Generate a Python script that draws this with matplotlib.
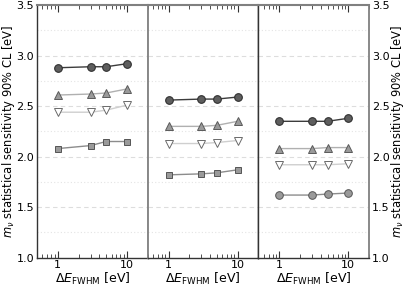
import numpy as np
from matplotlib import pyplot as plt
from matplotlib.ticker import LogLocator, NullFormatter, FixedLocator

# energy resolution values [eV]
fwhm = [1, 3, 5, 10]

# one list of series per panel (circle, triangle up, triangle down, bottom series)
panel1_circle = [2.88, 2.89, 2.89, 2.92]
panel1_up = [2.61, 2.62, 2.63, 2.67]
panel1_down = [2.44, 2.44, 2.46, 2.51]
panel1_square = [2.08, 2.11, 2.15, 2.15]

panel2_circle = [2.56, 2.57, 2.57, 2.59]
panel2_up = [2.30, 2.30, 2.31, 2.35]
panel2_down = [2.13, 2.13, 2.14, 2.16]
panel2_square = [1.82, 1.83, 1.84, 1.87]

panel3_circle = [2.35, 2.35, 2.35, 2.38]
panel3_up = [2.08, 2.08, 2.09, 2.09]
panel3_down = [1.92, 1.92, 1.92, 1.93]
panel3_low = [1.62, 1.62, 1.63, 1.64]

panels = [
    (panel1_circle, panel1_up, panel1_down, panel1_square, "s"),
    (panel2_circle, panel2_up, panel2_down, panel2_square, "s"),
    (panel3_circle, panel3_up, panel3_down, panel3_low, "o"),
]

ylabel = r"$m_\nu$ statistical sensitivity 90% CL [eV]"
xlabel = r"$\Delta E_{\rm FWHM}$ [eV]"

plt.rcParams["mathtext.fontset"] = "dejavusans"
plt.rcParams["font.family"] = "DejaVu Sans"

fig = plt.figure(figsize=(4.07, 2.89), dpi=100)

left, width = 0.0909, 0.272
bottom, height = 0.1083, 0.874

for i, (circ, up, down, low, low_marker) in enumerate(panels):
    ax = fig.add_axes([left + i * width, bottom, width, height])
    ax.set_xscale("log")
    ax.set_xlim(0.5, 20)
    ax.set_ylim(1.0, 3.5)

    for y in np.arange(1.5, 3.5, 0.5):
        ax.axhline(y, color="#dddddd", lw=0.8, ls=(0, (4, 3)), zorder=0)
    for y in np.arange(1.25, 3.5, 0.5):
        ax.axhline(y, color="#e4e4e4", lw=0.8, ls=(0, (1, 2)), zorder=0)

    ax.plot(fwhm, circ, "-", color="#3c3c3c", lw=1.0, marker="o", ms=5.5,
            mfc="#5e5e5e", mec="#303030", mew=0.8)
    ax.plot(fwhm, up, "-", color="#b0b0b0", lw=1.0, marker="^", ms=6,
            mfc="#9a9a9a", mec="#5a5a5a", mew=0.7)
    ax.plot(fwhm, down, "-", color="#cfcfcf", lw=1.0, marker="v", ms=6,
            mfc="white", mec="#6a6a6a", mew=0.7)
    ax.plot(fwhm, low, "-", color="#8c8c8c", lw=1.0, marker=low_marker,
            ms=5 if low_marker == "s" else 5.5,
            mfc="#9a9a9a", mec="#555555", mew=0.7)

    ax.xaxis.set_major_locator(FixedLocator([1, 10]))
    ax.xaxis.set_minor_locator(LogLocator(base=10, subs=np.arange(2, 10)))
    ax.xaxis.set_minor_formatter(NullFormatter())
    ax.set_xticklabels(["1", "10"])
    ax.tick_params(axis="x", which="both", direction="in", top=True, bottom=True,
                   labelsize=8, pad=2, color="#333333")
    ax.tick_params(axis="x", which="major", length=5, width=0.8)
    ax.tick_params(axis="x", which="minor", length=3, width=0.6)
    ax.set_xlabel(xlabel, fontsize=9, labelpad=0)

    ax.set_yticks([1.0, 1.5, 2.0, 2.5, 3.0, 3.5])
    ax.set_yticklabels(["1.0", "1.5", "2.0", "2.5", "3.0", "3.5"])
    ax.tick_params(axis="y", length=0, labelsize=8, pad=2)
    if i == 0:
        ax.set_ylabel(ylabel, fontsize=8.3, va="center")
        ax.yaxis.set_label_coords(-0.255, 0.5)
    elif i == 2:
        ax.yaxis.tick_right()
        ax.yaxis.set_label_position("right")
        ax.set_ylabel(ylabel, fontsize=8.3, rotation=90, va="center")
        ax.yaxis.set_label_coords(1.252, 0.5)
    else:
        ax.tick_params(axis="y", labelleft=False)

    for side in ["top", "bottom", "left", "right"]:
        ax.spines[side].set_linewidth(1.0)
        ax.spines[side].set_color("#333333")
    ax.spines["top"].set_color("#808080")
    ax.spines["top"].set_linewidth(1.5)
    if i == 1:
        ax.spines["left"].set_color("#808080")
        ax.spines["left"].set_linewidth(1.3)
        ax.spines["right"].set_color("black")
    if i == 2:
        ax.spines["right"].set_color("#808080")
        ax.spines["right"].set_linewidth(1.3)

fig.savefig("out.png", dpi=100)
